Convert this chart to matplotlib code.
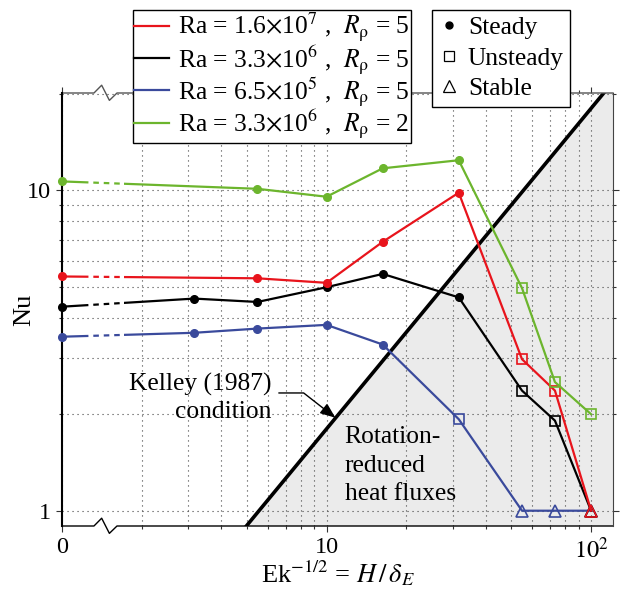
import numpy as np
import matplotlib.pyplot as plt
from matplotlib.lines import Line2D
from matplotlib.transforms import Bbox, TransformedBbox

plt.rcParams['font.family'] = ['Liberation Serif', 'DejaVu Serif']
plt.rcParams['mathtext.fontset'] = 'stix'
plt.rcParams['font.size'] = 18.4

# ---- data ----
ek = [0, 3.16, 5.48, 10, 16.3, 31.6, 54.8, 73, 100]   # Ek^-1/2

nu_red = [5.38, None, 5.31, 5.14, 6.90, 9.82, 2.97, 2.37, 1.0]
nu_black = [4.33, 4.59, 4.48, 4.98, 5.48, 4.63, 2.37, 1.91, 1.0]
nu_blue = [3.49, 3.59, 3.70, 3.80, 3.30, 1.93, 1.0, 1.0, 1.0]
nu_green = [10.65, None, 10.1, 9.54, 11.7, 12.4, 4.95, 2.52, 2.0]

# flow regime per point: S = steady, U = unsteady, T = stable
st_red = ['S', None, 'S', 'S', 'S', 'S', 'U', 'U', 'T']
st_black = ['S', 'S', 'S', 'S', 'S', 'S', 'U', 'U', 'T']
st_blue = ['S', 'S', 'S', 'S', 'S', 'U', 'T', 'T', 'T']
st_green = ['S', None, 'S', 'S', 'S', 'S', 'U', 'U', 'U']

labels = [r"Ra = 1.6$\times$10$^7$ ,  $R_{\mathrm{\rho}}$ = 5",
          r"Ra = 3.3$\times$10$^6$ ,  $R_{\mathrm{\rho}}$ = 5",
          r"Ra = 6.5$\times$10$^5$ ,  $R_{\mathrm{\rho}}$ = 5",
          r"Ra = 3.3$\times$10$^6$ ,  $R_{\mathrm{\rho}}$ = 2"]
colors = ['#e8141c', 'black', '#3a4a9c', '#6cb52d']

kelley_coef = 0.18   # Nu = 0.18 Ek^-1/2
kelley_x = [1, 200]

ZERO_POS = 1   # where "Ek^-1/2 = 0" sits on the log axis

regime_marker = {'S': 'o', 'U': 's', 'T': '^'}
regime_size = {'S': 5.5, 'U': 7.5, 'T': 9}

fig = plt.figure(figsize=(6.22, 5.94), dpi=100)
ax = fig.add_axes([62 / 622, 68 / 594, 551 / 622, 433 / 594])
ax.set_xscale('log')
ax.set_yscale('log')
ax.set_xlim(1, 121)
ax.set_ylim(0.896, 20.1)

# rotation-reduced region
kx = np.array(kelley_x, dtype=float)
ky = kelley_coef * kx
ax.fill_between(kx, 0.5, ky, color='#ebebeb', zorder=0.2, lw=0)
ax.plot(kx, ky, color='black', lw=2.6, zorder=1.5, solid_capstyle='butt')

ax.set_axisbelow(True)
ax.grid(which='both', linestyle=(0, (1, 3.5)), color='#444444', lw=0.8)


def clip(line, x0, x1):
    line.set_clip_box(TransformedBbox(Bbox.from_extents(x0, 0, x1, 1), ax.transAxes))


series = [(nu_blue, st_blue, colors[2]), (nu_black, st_black, colors[1]),
          (nu_red, st_red, colors[0]), (nu_green, st_green, colors[3])]
for i, (nu, st, c) in enumerate(series):
    xs = [ZERO_POS if e == 0 else e for e, v in zip(ek, nu) if v is not None]
    ys = [v for v in nu if v is not None]
    ss = [s for s in st if s is not None]
    z = 3 + i
    l1, = ax.plot(xs, ys, color=c, lw=1.6, zorder=z)
    clip(l1, 0.1125, 1)
    l2, = ax.plot(xs, ys, color=c, lw=1.6, zorder=z)
    clip(l2, 0, 0.038)
    l3, = ax.plot(xs, ys, color=c, lw=1.6, zorder=z, linestyle=(0, (2.5, 2.2)))
    clip(l3, 0.038, 0.1125)
    for x, y, s in zip(xs, ys, ss):
        if s == 'S':
            ax.plot(x, y, marker='o', ms=regime_size[s], color=c, zorder=z, clip_on=False)
        else:
            ax.plot(x, y, marker=regime_marker[s], ms=regime_size[s], mfc='none',
                    mec=c, mew=1.2, zorder=z, clip_on=False)

# ticks
ax.set_xticks([1, 10, 100])
ax.set_xticklabels(['0', '10', r'$10^2$'])
ax.set_xticks([2, 3, 4, 5, 6, 7, 8, 9, 20, 30, 40, 50, 60, 70, 80, 90], minor=True)
ax.set_xticklabels([], minor=True)
ax.set_yticks([1, 10])
ax.set_yticklabels(['1', '10'])
ax.set_yticks([2, 3, 4, 5, 6, 7, 8, 9, 20], minor=True)
ax.set_yticklabels([], minor=True)
ax.tick_params(which='both', direction='out', top=True, right=True, color='#333333', width=0.8)
ax.tick_params(which='major', length=4, pad=4, labelsize=17.5)
ax.tick_params(which='minor', length=2.5)

ax.set_xlabel(r"Ek$^{-1/2}$ = $H\,/\,\delta_E$", labelpad=-3, fontsize=19)
ax.set_ylabel("Nu", labelpad=-6, fontsize=19)

# spines with axis break
ax.spines['top'].set_visible(False)
ax.spines['bottom'].set_visible(False)
ax.spines['left'].set_linewidth(1.5)
ax.spines['right'].set_color('#444444')
brk_x = [0, 0.058, 0.072, 0.086, 0.0998, 1]
brk_y = [0, 0, 0.018, -0.017, 0, 0]
ax.add_line(Line2D(brk_x, brk_y, transform=ax.transAxes, color='black', lw=1.0, clip_on=False))
ax.add_line(Line2D(brk_x, [1 + v for v in brk_y], transform=ax.transAxes, color='#555555',
                   lw=1.0, clip_on=False))

# annotations
ax.text(6.2, 2.25, "Kelley (1987)\ncondition", ha='right', va='center', multialignment='right',
        linespacing=1.3)
ax.annotate('', xy=(10.8, 1.95), xytext=(6.6, 2.33),
            arrowprops=dict(arrowstyle='-|>,head_length=0.5,head_width=0.2', color='black', lw=1.0,
                            connectionstyle='angle,angleA=0,angleB=142,rad=0', shrinkA=0, shrinkB=0))
ax.text(11.7, 1.835, "Rotation-\nreduced\nheat fluxes", ha='left', va='top', linespacing=1.38)

# legends
h1 = [Line2D([], [], color=c, lw=1.6) for c in colors]
leg1 = fig.legend(h1, labels, loc='upper left', bbox_to_anchor=(133 / 622, 1 - 10 / 594),
                  borderaxespad=0, fancybox=False, edgecolor='black', framealpha=1,
                  handlelength=1.35, handletextpad=0.35, labelspacing=-0.05, borderpad=0.05)
leg1.get_frame().set_linewidth(1.0)
h2 = [Line2D([], [], color='black', marker='o', ms=5, ls='none'),
      Line2D([], [], color='black', marker='s', ms=7, mfc='none', mew=0.9, ls='none'),
      Line2D([], [], color='black', marker='^', ms=8, mfc='none', mew=0.9, ls='none')]
leg2 = fig.legend(h2, ['Steady', 'Unsteady', 'Stable'], loc='upper left',
                  bbox_to_anchor=(432 / 622, 1 - 10 / 594), borderaxespad=0, fancybox=False,
                  edgecolor='black', framealpha=1, handlelength=0.8, handletextpad=0.35,
                  labelspacing=0.3, borderpad=0.25)
leg2.get_frame().set_linewidth(1.0)

fig.savefig('out.png', dpi=100)
